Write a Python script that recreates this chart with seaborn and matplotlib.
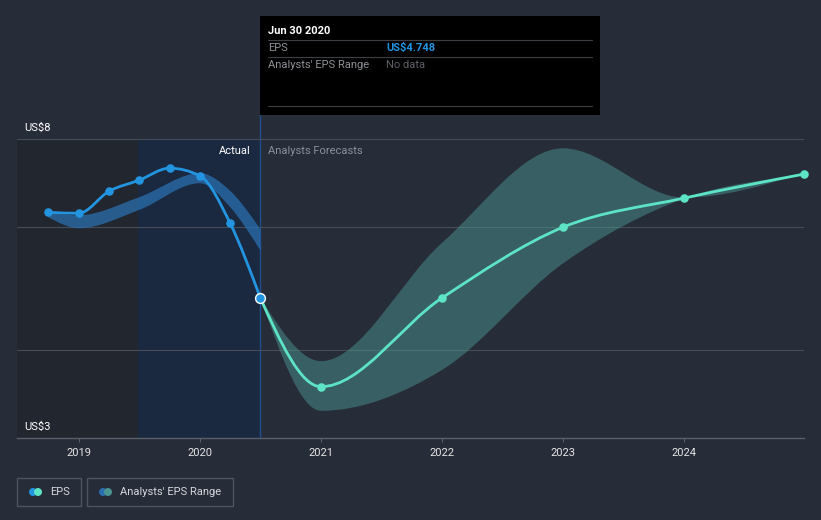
import numpy as np
import pandas as pd
import matplotlib
matplotlib.use("Agg")
import matplotlib.pyplot as plt
import seaborn as sns
from matplotlib.path import Path
from matplotlib.patches import PathPatch, Rectangle, Ellipse
from matplotlib.lines import Line2D
from matplotlib.transforms import blended_transform_factory

# data (fractional years, US$ per share)
actual_x = [2018.75, 2019.0, 2019.25, 2019.5, 2019.75, 2020.0, 2020.25, 2020.5]
actual_eps = [6.29, 6.27, 6.74, 6.99, 7.27, 7.09, 6.07, 4.748]

past_range_x = [2018.75, 2019.0, 2019.5, 2020.0, 2020.25, 2020.5]
past_range_hi = [6.27, 6.23, 6.61, 7.15, 6.75, 5.95]
past_range_lo = [6.19, 5.97, 6.34, 6.92, 6.40, 5.55]

fc_x = [2020.5, 2021.0, 2022.0, 2023.0, 2024.0, 2024.99]
fc_eps = [4.748, 3.55, 4.75, 5.99, 6.59, 7.13]
fc_hi = [4.748, 3.86, 5.69, 7.76, 6.60, 7.16]
fc_lo = [4.748, 3.28, 3.75, 5.32, 6.58, 7.10]

year_ticks = [2019, 2020, 2021, 2022, 2023, 2024]
grid_vals = [8, 6, 4]

BG = "#262c38"
BLUE = "#2394df"
TEAL = "#5de4c7"
W, H = 821, 520


def monotone_path(xs, ys):
    # d3 style monotoneX curve, computed in (x, log y) space
    x = np.asarray(xs, float)
    y = np.log(np.asarray(ys, float))
    n = len(x)
    h = np.diff(x)
    s = np.diff(y) / h
    t = np.zeros(n)
    for i in range(1, n - 1):
        p = (s[i - 1] * h[i] + s[i] * h[i - 1]) / (h[i - 1] + h[i])
        t[i] = (np.sign(s[i - 1]) + np.sign(s[i])) * min(abs(s[i - 1]), abs(s[i]), 0.5 * abs(p))
    t[0] = (3 * s[0] - t[1]) / 2
    t[-1] = (3 * s[-1] - t[-2]) / 2
    verts = [(x[0], y[0])]
    for i in range(n - 1):
        d = h[i] / 3
        verts += [(x[i] + d, y[i] + d * t[i]), (x[i + 1] - d, y[i + 1] - d * t[i + 1]), (x[i + 1], y[i + 1])]
    verts = [(a, np.exp(b)) for a, b in verts]
    return verts


def curve(xs, ys):
    v = monotone_path(xs, ys)
    codes = [Path.MOVETO] + [Path.CURVE4] * (len(v) - 1)
    return Path(v, codes)


def band(xs, hi, lo):
    up = monotone_path(xs, hi)
    dn = monotone_path(xs[::-1], lo[::-1])
    v = up + dn + [up[0]]
    codes = ([Path.MOVETO] + [Path.CURVE4] * (len(up) - 1) + [Path.LINETO]
             + [Path.CURVE4] * (len(dn) - 1) + [Path.CLOSEPOLY])
    return Path(v, codes)


def fx(px):
    return px / W


def fy(py):
    return 1 - py / H


sns.set_style("dark")
plt.rcParams["font.family"] = ["Roboto", "DejaVu Sans"]

fig = plt.figure(figsize=(W / 100, H / 100), dpi=100)
fig.patch.set_facecolor(BG)
ax = fig.add_axes([fx(17), fy(438), fx(804) - fx(17), fy(115) - fy(438)])
ax.set_facecolor(BG)
ax.set_yscale("log")
ax.set_xlim(2018.49, 2024.99)
ax.set_ylim(3, 8 * np.exp(24 / 304.8))

# shaded history regions
ax.fill_between([2018.49, 2019.49], 3, 8, color="#21262f", lw=0, zorder=0)
ax.fill_between([2019.49, 2020.5], 3, 8, color="#1a2940", lw=0, zorder=0)
ax.axvline(2020.5, color="#1f4f8f", lw=1, zorder=1)

for g in grid_vals:
    ax.axhline(g, color="#474d58", lw=0.8, zorder=1)

# bands
ax.add_patch(PathPatch(band(past_range_x, past_range_hi, past_range_lo),
                       facecolor="#2a6fae", alpha=0.75, lw=0, zorder=2))
ax.add_patch(PathPatch(band(fc_x, fc_hi, fc_lo),
                       facecolor="#4a9590", alpha=0.5, lw=0, zorder=2))

# lines
ax.add_patch(PathPatch(curve(actual_x, actual_eps), fill=False, edgecolor=BLUE,
                       lw=2, zorder=3, capstyle="round"))
ax.add_patch(PathPatch(curve(fc_x, fc_eps), fill=False, edgecolor=TEAL,
                       lw=2, zorder=3, capstyle="round"))

df_a = pd.DataFrame({"x": actual_x[:-1], "y": actual_eps[:-1]})
df_f = pd.DataFrame({"x": fc_x[1:], "y": fc_eps[1:]})
sns.scatterplot(data=df_a, x="x", y="y", ax=ax, color=BLUE, s=38, linewidth=0, zorder=4)
sns.scatterplot(data=df_f, x="x", y="y", ax=ax, color=TEAL, s=38, linewidth=0, zorder=4,
                clip_on=False)
ax.scatter([actual_x[-1]], [actual_eps[-1]], s=50, color=BLUE, edgecolor="white",
           linewidth=1, zorder=5)

# axes styling
ax.set_xlabel("")
ax.set_ylabel("")
ax.set_yticks([])
ax.yaxis.set_minor_locator(matplotlib.ticker.NullLocator())
ax.set_xticks(year_ticks)
ax.set_xticklabels([str(y) for y in year_ticks], color="#e6e6e6", fontsize=8)
ax.tick_params(axis="x", length=3, color="#5a606a", pad=4, bottom=True)
for sp in ["top", "right", "left"]:
    ax.spines[sp].set_visible(False)
ax.spines["bottom"].set_color("#5a606a")
ax.spines["bottom"].set_linewidth(1)
ax.grid(False)

trans = blended_transform_factory(ax.transAxes, ax.transData)
ax.annotate("US$8", xy=(0.009, 8), xycoords=trans, xytext=(0, 4), textcoords="offset points",
            color="white", fontsize=8, va="bottom")
ax.annotate("US$3", xy=(0.009, 3), xycoords=trans, xytext=(0, 4), textcoords="offset points",
            color="white", fontsize=8, va="bottom")

fig.text(fx(251), fy(151), "Actual", color="white", fontsize=8, ha="right", va="center")
fig.text(fx(268), fy(151), "Analysts Forecasts", color="#8b9099", fontsize=8,
         ha="left", va="center")

# tooltip
fig.patches.append(Rectangle((fx(260), fy(115)), fx(600) - fx(260), fy(16) - fy(115),
                             transform=fig.transFigure, facecolor="black", edgecolor="none",
                             zorder=10))
for yy in [40, 57, 106]:
    fig.lines.append(Line2D([fx(268), fx(592)], [fy(yy), fy(yy)], transform=fig.transFigure,
                            color="#3c3f44", lw=0.8, zorder=11))
fig.text(fx(268), fy(31), "Jun 30 2020", color="white", fontsize=8, fontweight="bold",
         va="center", zorder=12)
fig.text(fx(268), fy(48), "EPS", color="#8e9196", fontsize=8, va="center", zorder=12)
fig.text(fx(386), fy(48), "US$4.748", color=BLUE, fontsize=8, fontweight="bold",
         va="center", zorder=12)
fig.text(fx(268), fy(65), "Analysts' EPS Range", color="#8e9196", fontsize=8, va="center",
         zorder=12)
fig.text(fx(386), fy(65), "No data", color="#5d6066", fontsize=8, va="center", zorder=12)

# legend
for x0, x1 in [(17, 81), (87, 233)]:
    fig.patches.append(Rectangle((fx(x0), fy(506)), fx(x1) - fx(x0), fy(478) - fy(506),
                                 transform=fig.transFigure, facecolor="none",
                                 edgecolor="#4f5560", lw=1))
for cx, col in [(33, BLUE), (38, TEAL), (103, "#2a6fae"), (108, "#4a9590")]:
    fig.patches.append(Ellipse((fx(cx), fy(492)), 8 / W, 8 / H, transform=fig.transFigure,
                               facecolor=col, edgecolor="none"))
fig.text(fx(50), fy(492), "EPS", color="#d5d7db", fontsize=8, va="center")
fig.text(fx(120), fy(492), "Analysts' EPS Range", color="#d5d7db", fontsize=8, va="center")

fig.savefig("out.png", dpi=100, facecolor=BG)
